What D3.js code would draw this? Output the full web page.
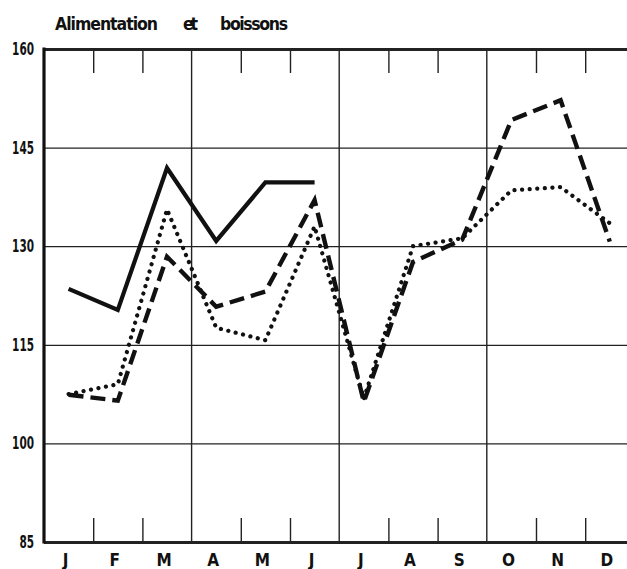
<!DOCTYPE html>
<html>
<head>
<meta charset="utf-8">
<script src="https://cdn.jsdelivr.net/npm/d3@7"></script>
<style>
  html, body { margin: 0; padding: 0; background: #fff; }
  svg { display: block; }
  text { font-family: "Liberation Sans Narrow", "DejaVu Sans Condensed", sans-serif; font-weight: bold; fill: #111; }
</style>
</head>
<body>
<div id="chart"></div>
<script>
/* Data */
const MONTHS = ["J", "F", "M", "A", "M", "J", "J", "A", "S", "O", "N", "D"]
const Y_TICKS = [85, 100, 115, 130, 145, 160]
const TITLE_WORDS = ["Alimentation", "et", "boissons"]
const SOLID = [123.5, 120.3, 141.9, 130.8, 139.7, 139.7]
const DASHED = [107.4, 106.5, 128.4, 120.8, 123.1, 137.0, 106.3, 127.6, 131.0, 149.2, 152.2, 130.7]
const DOTTED = [107.5, 109.0, 135.6, 117.6, 115.7, 133.0, 106.8, 130.0, 131.2, 138.5, 139.0, 133.5]

/* Layout */
const WIDTH = 627
const HEIGHT = 569
const LEFT = 44
const MONTH_W = 49.2
const TOP = 49
const BOTTOM = 542
const TICK_LEN = 24

const svg = d3.select("#chart")
              .append("svg")
              .attr("width", WIDTH)
              .attr("height", HEIGHT);

const x = d3.scaleBand()
            .domain(d3.range(12))
            .range([LEFT, LEFT + 12 * MONTH_W])
            .padding(0);
const xEdge = d3.scaleLinear().domain([0, 12]).range([LEFT, LEFT + 12 * MONTH_W]);
const y = d3.scaleLinear().domain([85, 160]).range([BOTTOM, TOP]);
const xMid = (i) => x(i) + x.bandwidth() / 2;

/* Title, words spread out as in the original */
const titlePos = [[55, 103], [183, 15], [220, 68]];
svg.selectAll("text.title")
   .data(TITLE_WORDS)
   .enter()
   .append("text")
   .attr("class", "title")
   .attr("x", (d, i) => titlePos[i][0])
   .attr("y", 29.5)
   .attr("textLength", (d, i) => titlePos[i][1])
   .attr("lengthAdjust", "spacing")
   .style("font-size", "17.5px")
   .text((d) => d);

/* Horizontal grid + y labels */
const yAxis = d3.axisLeft(y)
                .tickValues(Y_TICKS)
                .tickSize(-(WIDTH + 20))
                .tickPadding(10)
                .tickFormat(d3.format("d"));
const gy = svg.append("g")
              .attr("transform", "translate(" + LEFT + ",0)")
              .call(yAxis);
gy.select(".domain").remove();
gy.selectAll(".tick line").attr("stroke", "#222").attr("stroke-width", 1.3);
gy.selectAll(".tick text")
  .style("font-size", "17px")
  .style("font-family", "'Liberation Sans Narrow', 'DejaVu Sans Condensed', sans-serif")
  .style("font-weight", "bold")
  .attr("fill", "#111")
  .attr("textLength", (d) => String(d).length * 7.3)
  .attr("lengthAdjust", "spacingAndGlyphs");
// thicker frame at top and bottom
gy.selectAll(".tick line")
  .filter((d) => d === 85 || d === 160)
  .attr("stroke-width", 2.8);

/* Quarter separators */
svg.selectAll("line.quarter")
   .data([3, 6, 9])
   .enter()
   .append("line")
   .attr("class", "quarter")
   .attr("x1", (d) => xEdge(d))
   .attr("x2", (d) => xEdge(d))
   .attr("y1", TOP)
   .attr("y2", BOTTOM)
   .attr("stroke", "#222")
   .attr("stroke-width", 1.4);

/* Month ticks top and bottom */
const monthEdges = [1, 2, 4, 5, 7, 8, 10, 11];
const xTop = d3.axisBottom(xEdge).tickValues(monthEdges).tickSize(TICK_LEN).tickFormat("");
const xBot = d3.axisTop(xEdge).tickValues(monthEdges).tickSize(TICK_LEN).tickFormat("");
svg.append("g").attr("transform", "translate(0," + TOP + ")").call(xTop)
   .call((g) => g.select(".domain").remove())
   .selectAll("line").attr("stroke", "#222").attr("stroke-width", 1.4);
svg.append("g").attr("transform", "translate(0," + BOTTOM + ")").call(xBot)
   .call((g) => g.select(".domain").remove())
   .selectAll("line").attr("stroke", "#222").attr("stroke-width", 1.4);

/* Left axis, heavy */
svg.append("line")
   .attr("x1", LEFT).attr("x2", LEFT)
   .attr("y1", TOP - 1.5).attr("y2", BOTTOM + 1.5)
   .attr("stroke", "#111")
   .attr("stroke-width", 3.2);

/* Month labels */
svg.selectAll("text.month")
   .data(MONTHS)
   .enter()
   .append("text")
   .attr("class", "month")
   .attr("x", (d, i) => xMid(i) - 3)
   .attr("y", 565.5)
   .attr("text-anchor", "middle")
   .style("font-size", "17px")
   .text((d) => d);

/* Series */
const line = d3.line()
               .x((d, i) => xMid(i))
               .y((d) => y(d));

svg.append("path")
   .datum(SOLID)
   .attr("d", line)
   .attr("fill", "none")
   .attr("stroke", "#111")
   .attr("stroke-width", 4.2)
   .attr("stroke-linejoin", "miter");

svg.append("path")
   .datum(DOTTED)
   .attr("d", line)
   .attr("fill", "none")
   .attr("stroke", "#111")
   .attr("stroke-width", 4.2)
   .attr("stroke-linecap", "round")
   .attr("stroke-dasharray", "0.1 7.5");

svg.append("path")
   .datum(DASHED)
   .attr("d", line)
   .attr("fill", "none")
   .attr("stroke", "#111")
   .attr("stroke-width", 4.4)
   .attr("stroke-dasharray", "15 7");
</script>
</body>
</html>
